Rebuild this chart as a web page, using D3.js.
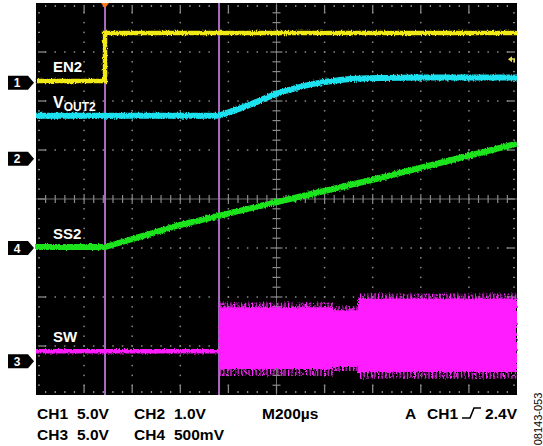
<!DOCTYPE html>
<html><head><meta charset="utf-8">
<script src="https://cdn.jsdelivr.net/npm/d3@7"></script>
<style>
html,body{margin:0;padding:0;background:#fff;}
svg{display:block;font-family:"Liberation Sans",Arial,Helvetica,sans-serif;}
</style></head><body>
<svg id="c" width="543" height="446"></svg>
<script>
// ---- horizontal: time in µs, 200 µs/div, 10 divisions ----
const timeDomain = [0, 2000];
const timeMajor = d3.range(0, 2001, 200);
const timeMinor = d3.range(0, 2001, 40);
// ---- vertical: screen divisions, 8 divisions ----
const divDomain = [-4, 4];
const divMajor = d3.range(-4, 5, 1);
const divMinor = d3.range(-4, 4.001, 0.2).map(v => +v.toFixed(1));

// channel ground positions (div) and scale (V/div)
const chIds = ["1", "2", "4", "3"];
const chNames = ["CH1", "CH2", "CH4", "CH3"];
const chOffset = [2.37, 0.82, -1.0, -3.31];
const chVdiv = [5, 1, 0.5, 5];

// trace data (time µs, volts)
const en2Time = [0, 287, 287, 2000];
const en2Volts = [0.2, 0.2, 5.1, 5.1];
const vout2FlatTime = [0, 761];
const vout2FlatVolts = [0.88, 0.88];
const vout2RiseTime = [761, 877, 1002, 1152, 1264, 1430, 1600, 2000];
const vout2RiseVolts = [0.88, 1.08, 1.33, 1.53, 1.61, 1.65, 1.66, 1.66];
const ss2Time = [0, 287, 599, 1002, 1430, 2000];
const ss2Volts = [0.01, 0.01, 0.235, 0.469, 0.714, 1.065];
const swIdleTime = [0, 761];
const swIdleVolts = [1.02, 1.02];
const swBandTime = [761, 1235, 1235, 1339, 1339, 2000];
const swBandHigh = [5.5, 5.5, 5.2, 5.2, 6.4, 6.4];
const swBandLow = [-0.8, -0.8, -0.6, -0.6, -1.1, -1.1];
const swSpikeHigh = [6.0, 6.0, 5.6, 5.6, 6.9, 6.9];
const swSpikeLow = [-1.5, -1.5, -1.0, -1.0, -1.8, -1.8];

const cursorTimes = [287, 761];
const triggerLevel = 2.4; // V on CH1

const traceLabels = ["EN2", "SS2", "SW"];
const bottomRow1 = [["CH1", "5.0V"], ["CH2", "1.0V"]];
const bottomRow2 = [["CH3", "5.0V"], ["CH4", "500mV"]];
const timebaseLabel = "M200µs";
const trigLabel = ["A", "CH1", "2.4V"];
const figId = "08143-053";

// ---- drawing ----
const svg = d3.select("#c");
const x = d3.scaleLinear(timeDomain, [36, 517]);
const y = d3.scaleLinear(divDomain, [395, 3]);
const vy = (ci, v) => y(chOffset[ci] + v / chVdiv[ci]);

const defs = svg.append("defs");
const pat = defs.append("pattern").attr("id", "spk").attr("patternUnits", "userSpaceOnUse")
  .attr("width", 3.6).attr("height", 40);
pat.append("rect").attr("width", 1.3).attr("height", 40).attr("fill", "#ff2cff");
const flt = defs.append("filter").attr("id", "noise").attr("x", "-5%").attr("y", "-20%").attr("width", "110%").attr("height", "140%");
flt.append("feTurbulence").attr("type", "fractalNoise").attr("baseFrequency", "0.9 0.35").attr("numOctaves", 2).attr("seed", 3).attr("result", "t");
flt.append("feDisplacementMap").attr("in", "SourceGraphic").attr("in2", "t").attr("scale", 3.5).attr("xChannelSelector", "R").attr("yChannelSelector", "G");

// screen
svg.append("rect").attr("x", x(0)).attr("y", y(4)).attr("width", x(2000) - x(0)).attr("height", y(-4) - y(4)).attr("fill", "#000");

const grid = svg.append("g").attr("fill", "#8a8a8a").attr("stroke", "#8a8a8a");
// dotted major grid lines
timeMajor.filter(t => t > 0 && t < 2000 && t !== 1000).forEach(t => {
  grid.selectAll(null).data(divMinor.filter(d => d > -4 && d < 4)).join("rect")
    .attr("x", x(t) - 0.75).attr("y", d => y(d) - 0.75).attr("width", 1.5).attr("height", 1.5).attr("stroke", "none");
});
divMajor.filter(d => d > -4 && d < 4 && d !== 0).forEach(d => {
  grid.selectAll(null).data(timeMinor.filter(t => t > 0 && t < 2000)).join("rect")
    .attr("x", t => x(t) - 0.75).attr("y", y(d) - 0.75).attr("width", 1.5).attr("height", 1.5).attr("stroke", "none");
});
// centre cross
grid.append("line").attr("x1", x(0)).attr("x2", x(2000)).attr("y1", y(0)).attr("y2", y(0)).attr("stroke-width", 1).attr("stroke-opacity", 0.8);
grid.append("line").attr("x1", x(1000)).attr("x2", x(1000)).attr("y1", y(4)).attr("y2", y(-4)).attr("stroke-width", 1).attr("stroke-opacity", 0.8);
grid.selectAll(null).data(timeMinor.filter(t => t > 0 && t < 2000)).join("line")
  .attr("x1", t => x(t)).attr("x2", t => x(t))
  .attr("y1", t => y(0) - (t % 200 === 0 ? 5 : 4)).attr("y2", t => y(0) + (t % 200 === 0 ? 5 : 4)).attr("stroke-width", 1.2);
grid.selectAll(null).data(divMinor.filter(d => d > -4 && d < 4)).join("line")
  .attr("y1", d => y(d)).attr("y2", d => y(d))
  .attr("x1", d => x(1000) - (Math.abs(d % 1) < 1e-6 ? 6 : 4)).attr("x2", d => x(1000) + (Math.abs(d % 1) < 1e-6 ? 6 : 4)).attr("stroke-width", 1.2);
// edge ticks
const edgeT = timeMinor.filter(t => t > 0 && t < 2000);
[[y(4), 1], [y(-4), -1]].forEach(([yy, s]) => {
  grid.selectAll(null).data(edgeT).join("line")
    .attr("x1", t => x(t)).attr("x2", t => x(t))
    .attr("y1", yy + s * 2).attr("y2", t => yy + s * (t % 200 === 0 ? 10 : 4)).attr("stroke-width", 1.3);
});
const edgeD = divMinor.filter(d => d > -4 && d < 4);
[[x(0), 1], [x(2000), -1]].forEach(([xx, s]) => {
  grid.selectAll(null).data(edgeD).join("line")
    .attr("y1", d => y(d)).attr("y2", d => y(d))
    .attr("x1", xx + s * 2).attr("x2", d => xx + s * (Math.abs(d % 1) < 1e-6 ? 10 : 4)).attr("stroke-width", 1.3);
});

// cursors
svg.selectAll(null).data(cursorTimes).join("line")
  .attr("x1", t => x(t)).attr("x2", t => x(t)).attr("y1", y(4)).attr("y2", y(-4))
  .attr("stroke", "#a86cc0").attr("stroke-width", 2);
// trigger position marker
svg.append("path").attr("d", `M${x(cursorTimes[0]) - 4},${y(4)} L${x(cursorTimes[0]) + 4},${y(4)} L${x(cursorTimes[0])},${y(4) + 5}Z`).attr("fill", "#ff7a20");

const traces = svg.append("g").attr("filter", "url(#noise)");
const lineOf = (ci, curve) => d3.line().x(d => x(d[0])).y(d => vy(ci, d[1])).curve(curve);

// SW (CH3, index 3)
const swBand = swBandTime.map((t, i) => [t, swBandLow[i], swBandHigh[i]]);
traces.append("path").datum(swBandTime.map((t, i) => [t, swSpikeLow[i], swSpikeHigh[i]]))
  .attr("d", d3.area().x(d => x(d[0])).y0(d => vy(3, d[1])).y1(d => vy(3, d[2])))
  .attr("fill", "url(#spk)");
traces.append("path").datum(swBand)
  .attr("d", d3.area().x(d => x(d[0])).y0(d => vy(3, d[1])).y1(d => vy(3, d[2])))
  .attr("fill", "#ff1cff");
traces.append("path").datum(swIdleTime.map((t, i) => [t, swIdleVolts[i]]))
  .attr("d", lineOf(3, d3.curveLinear)).attr("fill", "none").attr("stroke", "#ff1cff").attr("stroke-width", 4.5);
// SS2 (CH4, index 2)
traces.append("path").datum(ss2Time.map((t, i) => [t, ss2Volts[i]]))
  .attr("d", lineOf(2, d3.curveLinear)).attr("fill", "none").attr("stroke", "#1ee41e").attr("stroke-width", 6);
// VOUT2 (CH2, index 1)
traces.append("path").datum(vout2FlatTime.map((t, i) => [t, vout2FlatVolts[i]]))
  .attr("d", lineOf(1, d3.curveLinear)).attr("fill", "none").attr("stroke", "#1ee2f0").attr("stroke-width", 6);
traces.append("path").datum(vout2RiseTime.map((t, i) => [t, vout2RiseVolts[i]]))
  .attr("d", lineOf(1, d3.curveMonotoneX)).attr("fill", "none").attr("stroke", "#1ee2f0").attr("stroke-width", 6);
// EN2 (CH1, index 0)
traces.append("path").datum(en2Time.map((t, i) => [t, en2Volts[i]]))
  .attr("d", lineOf(0, d3.curveLinear)).attr("fill", "none").attr("stroke", "#f2ea14").attr("stroke-width", 4.5);

// trigger level arrow (CH1 2.4V)
const ta = vy(0, triggerLevel);
svg.append("path").attr("d", `M${x(2000) - 9},${ta} L${x(2000) - 5},${ta - 3} L${x(2000) - 5},${ta + 3}Z M${x(2000) - 6},${ta - 1} h4 v4 h-1.5 v-2.5 h-2.5Z`).attr("fill", "#e8e050");

// channel markers
const mk = svg.append("g");
chIds.forEach((id, ci) => {
  const yy = y(chOffset[ci]);
  mk.append("path").attr("d", `M8,${yy - 7} H28 L34,${yy} L28,${yy + 7} H8Z`).attr("fill", "#000");
  mk.append("text").attr("x", 17).attr("y", yy + 4.5).attr("text-anchor", "middle").attr("fill", "#fff")
    .attr("font-weight", "bold").attr("font-size", 12).text(id);
});

// trace labels
const lab = svg.append("g").attr("fill", "#fff").attr("font-weight", "bold").attr("font-size", 15);
lab.append("text").attr("x", 53).attr("y", 72).text(traceLabels[0]);
const vt = lab.append("text").attr("x", 53).attr("y", 108);
vt.append("tspan").attr("font-size", 16).text("V");
vt.append("tspan").attr("font-size", 12).attr("dy", 3).text("OUT2");
lab.append("text").attr("x", 53).attr("y", 239).text(traceLabels[1]);
lab.append("text").attr("x", 53).attr("y", 342).text(traceLabels[2]);

// bottom settings text
const bt = svg.append("g").attr("fill", "#000").attr("font-weight", "bold").attr("font-size", 15.5);
[[bottomRow1, 419], [bottomRow2, 440]].forEach(([row, yy]) => {
  row.forEach((pair, j) => {
    const x0 = j === 0 ? 37 : 134;
    bt.append("text").attr("x", x0).attr("y", yy).text(pair[0]);
    bt.append("text").attr("x", x0 + 40).attr("y", yy).text(pair[1]);
  });
});
bt.append("text").attr("x", 262).attr("y", 419).text(timebaseLabel);
bt.append("text").attr("x", 405).attr("y", 419).text(trigLabel[0]);
bt.append("text").attr("x", 427).attr("y", 419).text(trigLabel[1]);
bt.append("text").attr("x", 517).attr("y", 419).attr("text-anchor", "end").text(trigLabel[2]);
svg.append("path").attr("d", "M462,418 H470 L474,408 H481").attr("fill", "none").attr("stroke", "#000").attr("stroke-width", 1.6);

svg.append("text").attr("transform", "translate(542,419) rotate(-90)").attr("text-anchor", "middle")
  .attr("font-size", 11).attr("fill", "#000").text(figId);
</script>
</body></html>
